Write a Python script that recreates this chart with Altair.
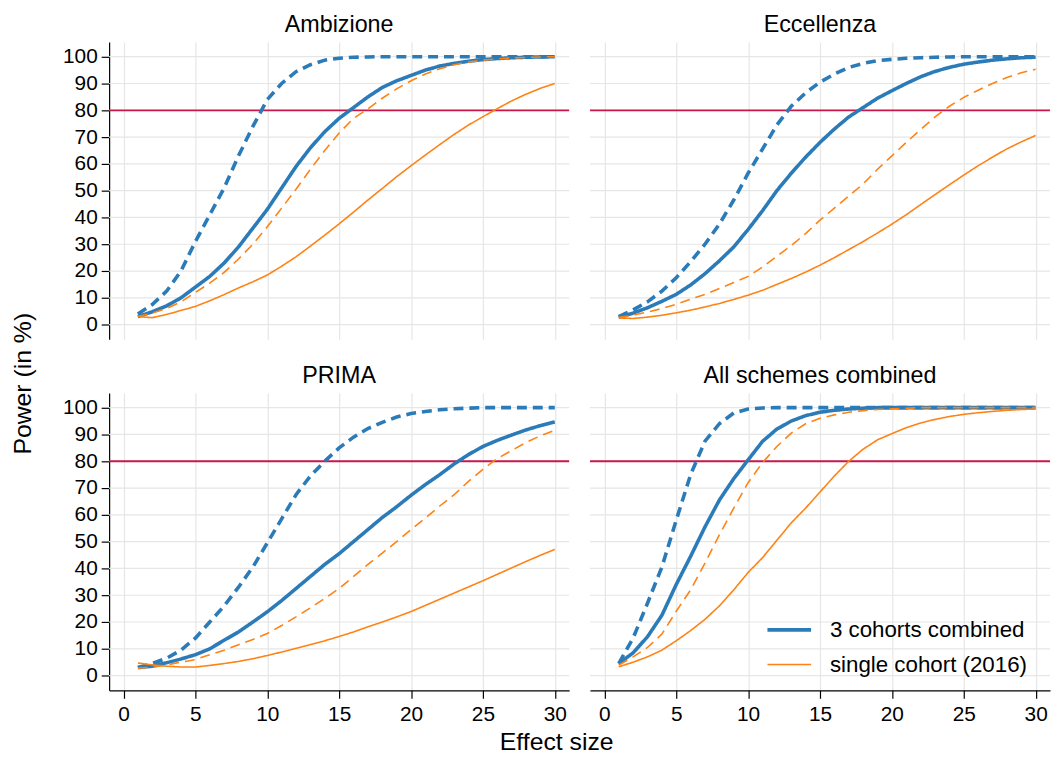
import altair as alt
import pandas as pd

FONT = "Liberation Sans"
BLUE = "#2a7bb8"
ORANGE = "#ff8214"
RED = "#c8174a"
GRID = "#e6e6e6"

effect = list(range(1, 31))
panels = ["Ambizione", "Eccellenza", "PRIMA", "All schemes combined"]
cohorts = ["3 cohorts combined", "single cohort (2016)"]
styles = ["solid", "dashed"]
x_ticks = [0, 5, 10, 15, 20, 25, 30]
y_ticks = [0, 10, 20, 30, 40, 50, 60, 70, 80, 90, 100]
target_power = 80

# ---- Ambizione ----
amb_3c_solid = [3, 4.8, 7, 10, 14, 18, 23, 29, 36, 43, 51, 59, 66, 72, 77, 81, 85, 88.5, 91, 93,
                95, 96.5, 97.5, 98.3, 98.9, 99.3, 99.6, 99.8, 99.9, 100]
amb_3c_dashed = [4, 7.5, 12.5, 20, 31, 41, 51, 63, 74, 84, 90, 94.4, 97, 98.7, 99.4, 99.8, 99.9, 100, 100, 100,
                 100, 100, 100, 100, 100, 100, 100, 100, 100, 100]
amb_1c_solid = [3, 2.6, 3.8, 5.3, 6.8, 8.9, 11.2, 13.7, 16, 18.5, 21.8, 25.3, 29.3, 33.4, 37.6, 42, 46.5, 50.8,
                55.2, 59.3, 63.3, 67.2, 71, 74.5, 77.6, 80.6, 83.5, 86, 88.2, 90]
amb_1c_dashed = [3, 4.3, 6, 8.5, 12, 15.5, 19.5, 24.5, 30, 36.5, 43.5, 50.5, 58, 65, 71.5, 77, 80.5, 84.5, 88, 91,
                 93.5, 95.5, 97, 98, 98.7, 99.2, 99.5, 99.7, 99.9, 100]

# ---- Eccellenza ----
ecc_3c_solid = [2.7, 4.3, 6.3, 8.7, 11.3, 14.8, 19, 23.8, 29, 35.5, 42.5, 50, 56.5, 62.5, 68, 73, 77.5, 81, 84.5,
                87.3, 90, 92.5, 94.5, 96, 97.2, 98, 98.7, 99.2, 99.6, 99.8]
ecc_3c_dashed = [3, 5.5, 8.5, 12.5, 17.5, 23.5, 30, 37.5, 46.5, 56.5, 65.5, 74.5, 81.5, 86.5, 90.5, 93.5, 96, 97.5,
                 98.5, 99, 99.4, 99.6, 99.8, 99.9, 100, 100, 100, 100, 100, 100]
ecc_1c_solid = [2.5, 2.3, 2.8, 3.5, 4.4, 5.4, 6.6, 7.9, 9.4, 11, 12.8, 15, 17.2, 19.6, 22.2, 25, 28, 31, 34.2, 37.5,
                41, 44.8, 48.5, 52.2, 55.8, 59.3, 62.5, 65.6, 68.2, 70.6]
ecc_1c_dashed = [2.7, 3.5, 4.7, 6, 7.6, 9.5, 11.3, 13.5, 15.7, 18, 21.5, 25.5, 29.5, 34, 39, 43.5, 48, 52.5, 58, 63,
                 68, 72.8, 77.5, 81.5, 84.8, 87.5, 90, 92.2, 94, 95.3]

# ---- PRIMA ----
pri_3c_solid = [3, 3.5, 4.8, 6.2, 7.8, 10, 13.2, 16.3, 20, 23.8, 28, 32.5, 37, 41.5, 45.5, 50, 54.5, 59, 63, 67.3,
                71.3, 75, 79, 82.5, 85.5, 87.8, 89.8, 91.7, 93.3, 94.7]
pri_3c_dashed = [3, 4.5, 6.5, 9.5, 14, 20, 26, 33, 40.5, 49.5, 58.5, 67.5, 74.5, 80, 85, 89, 92.2, 94.5, 96.5, 97.8,
                 98.6, 99.2, 99.6, 99.8, 100, 100, 100, 100, 100, 100]
pri_1c_solid = [4.7, 4, 3.5, 3.2, 3.2, 3.8, 4.5, 5.3, 6.3, 7.5, 8.8, 10.2, 11.6, 13, 14.6, 16.3, 18.2, 20, 21.9,
                23.9, 26.2, 28.5, 30.8, 33.1, 35.4, 37.8, 40.2, 42.6, 44.9, 47.1]
pri_1c_dashed = [2.8, 3.1, 4, 5, 6, 7.8, 9.5, 11.5, 13.5, 15.7, 18.7, 21.9, 25.3, 28.8, 32.5, 37, 41.5, 45.7, 50,
                 54.5, 58.8, 63.3, 67.5, 72.5, 77, 81, 84, 87, 89.5, 91.5]

# ---- All schemes combined ----
all_3c_solid = [4.5, 8.5, 14.5, 22.5, 34, 44.5, 55.5, 65.5, 73.5, 80.5, 87.4, 92, 95, 97, 98.3, 99, 99.5, 99.8, 100,
                100, 100, 100, 100, 100, 100, 100, 100, 100, 100, 100]
all_3c_dashed = [4.5, 14, 27, 40.5, 58, 75, 87.5, 94, 98, 99.5, 99.9, 100, 100, 100, 100, 100, 100, 100, 100, 100,
                 100, 100, 100, 100, 100, 100, 100, 100, 100, 100]
all_1c_solid = [3.3, 5, 7, 9.5, 13, 16.8, 21, 26, 32, 38.5, 44, 50.5, 57, 62.5, 68.5, 74.5, 80, 84.5, 88, 90.3,
                92.5, 94.3, 95.6, 96.7, 97.5, 98.1, 98.6, 99, 99.3, 99.5]
all_1c_dashed = [3.9, 7, 10.5, 15.5, 24, 32, 42, 52.5, 62.5, 72, 79.5, 85.5, 90.5, 94, 96, 97.3, 98.3, 98.9, 99.3,
                 99.6, 99.8, 100, 100, 100, 100, 100, 100, 100, 100, 100]

series = [
    ("Ambizione", cohorts[0], "solid", amb_3c_solid),
    ("Ambizione", cohorts[0], "dashed", amb_3c_dashed),
    ("Ambizione", cohorts[1], "solid", amb_1c_solid),
    ("Ambizione", cohorts[1], "dashed", amb_1c_dashed),
    ("Eccellenza", cohorts[0], "solid", ecc_3c_solid),
    ("Eccellenza", cohorts[0], "dashed", ecc_3c_dashed),
    ("Eccellenza", cohorts[1], "solid", ecc_1c_solid),
    ("Eccellenza", cohorts[1], "dashed", ecc_1c_dashed),
    ("PRIMA", cohorts[0], "solid", pri_3c_solid),
    ("PRIMA", cohorts[0], "dashed", pri_3c_dashed),
    ("PRIMA", cohorts[1], "solid", pri_1c_solid),
    ("PRIMA", cohorts[1], "dashed", pri_1c_dashed),
    ("All schemes combined", cohorts[0], "solid", all_3c_solid),
    ("All schemes combined", cohorts[0], "dashed", all_3c_dashed),
    ("All schemes combined", cohorts[1], "solid", all_1c_solid),
    ("All schemes combined", cohorts[1], "dashed", all_1c_dashed),
]

rows = []
for i, (panel_name, cohort, style, vals) in enumerate(series):
    for e, v in zip(effect, vals):
        rows.append({"panel": panel_name, "cohort": cohort, "style": style,
                     "sid": i % 4, "effect": e, "power": v, "target": target_power})
df = pd.DataFrame(rows)
grid_df = pd.DataFrame({"gy": y_ticks})

x_scale = alt.Scale(domain=[-1, 31], nice=False, zero=False)
y_scale = alt.Scale(domain=[-5.5, 105.5], nice=False, zero=False)
legend = alt.Legend(title=None, orient="none", legendX=662, legendY=569)


def make_axis(values, show, pad, grid):
    if show:
        return alt.Axis(values=values, title=None, labelOverlap=False, grid=grid, labelPadding=pad)
    return alt.Axis(values=values, title=None, grid=grid, labels=False, ticks=False, domain=False)


def panel(name, show_x, show_y):
    x_axis = make_axis(x_ticks, show_x, 5, True)
    y_axis = make_axis(y_ticks, show_y, 4, False)
    base = alt.Chart(df).transform_filter(alt.datum.panel == name)
    hgrid = alt.Chart(grid_df).mark_rule(color=GRID, strokeWidth=1.2).encode(
        y=alt.Y("gy:Q", scale=y_scale, axis=y_axis)
    )
    lines = base.mark_line(clip=True).encode(
        x=alt.X("effect:Q", scale=x_scale, axis=x_axis),
        y=alt.Y("power:Q", scale=y_scale, axis=y_axis),
        color=alt.Color("cohort:N", scale=alt.Scale(domain=cohorts, range=[BLUE, ORANGE]), legend=legend),
        strokeWidth=alt.StrokeWidth("cohort:N", scale=alt.Scale(domain=cohorts, range=[3.6, 1.6]),
                                    legend=legend),
        strokeDash=alt.StrokeDash("style:N", scale=alt.Scale(domain=styles, range=[[1, 0], [10, 6]]),
                                  legend=None),
        order="effect:Q",
    )
    rule = base.transform_filter("datum.effect == 1 && datum.sid == 0").mark_rule(
        color=RED, strokeWidth=1.8
    ).encode(y=alt.Y("target:Q", scale=y_scale, axis=y_axis))
    return alt.layer(hgrid, rule, lines).properties(
        width=464, height=300,
        title=alt.TitleParams(name, fontSize=23.5, anchor="middle", offset=6),
    )


top = alt.hconcat(panel(panels[0], False, True), panel(panels[1], False, False), spacing=19)
bottom = alt.hconcat(panel(panels[2], True, True), panel(panels[3], True, False), spacing=19)

body = alt.vconcat(top, bottom, spacing=24).properties(
    title=alt.TitleParams("Effect size", orient="bottom", anchor="middle", offset=6, fontSize=25)
)

chart = alt.hconcat(body).properties(
    title=alt.TitleParams("Power (in %)", orient="left", anchor="middle", offset=27, fontSize=25),
    padding={"left": 2, "top": 1, "right": 0, "bottom": 0},
).configure_view(
    stroke=None
).configure_title(
    font=FONT, fontWeight="normal", color="black",
).configure_axis(
    labelFont=FONT, labelFontSize=21, labelColor="black",
    tickColor="black", tickSize=8, domainColor="black", domainWidth=1.2,
    tickWidth=1.2, gridColor=GRID, gridWidth=1.2,
).configure_legend(
    labelFont=FONT, labelFontSize=22.5, labelColor="black", symbolType="stroke",
    symbolSize=1936, labelOffset=17, rowPadding=0, labelLimit=400,
)

chart.save("out.html", embed_options={"renderer": "svg", "actions": False})
